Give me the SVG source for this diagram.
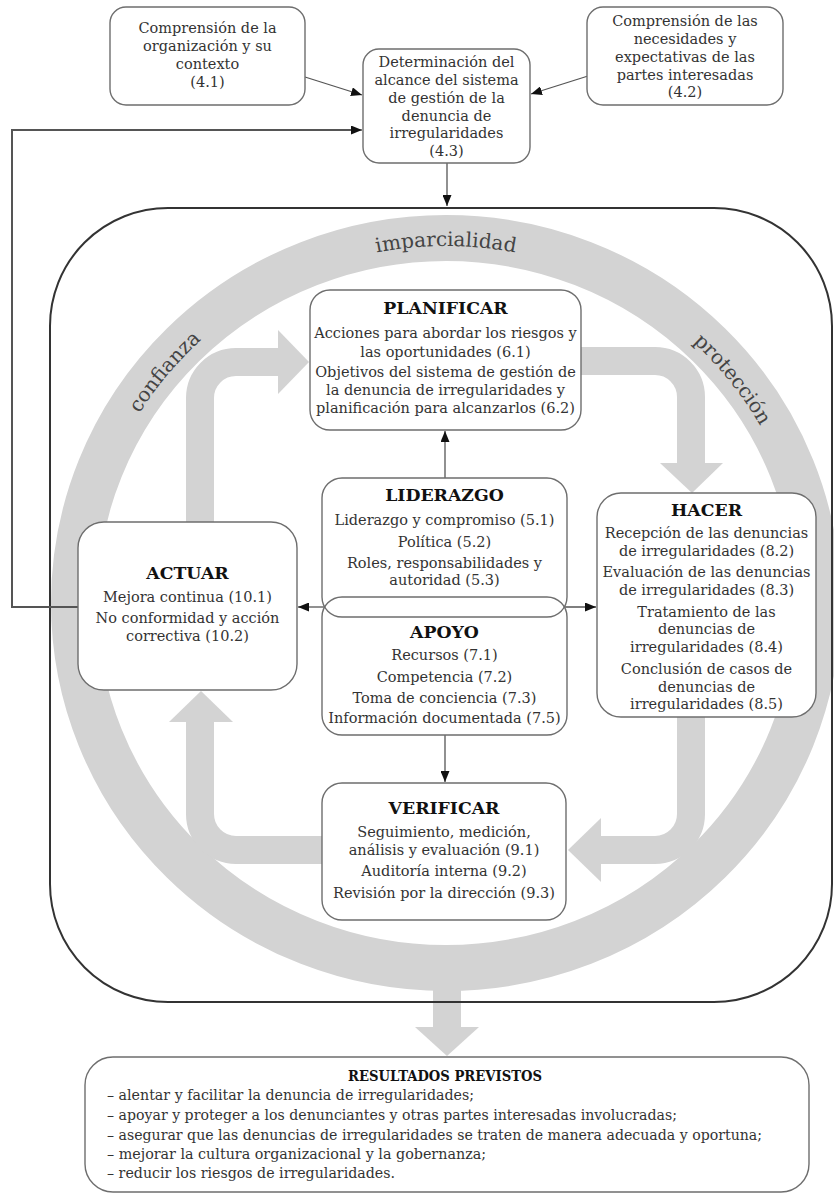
<svg xmlns="http://www.w3.org/2000/svg" width="834" height="1194" viewBox="0 0 834 1194">
<style>
.box{fill:#fff;stroke:#6e6e6e;stroke-width:1.4}
.boxn{fill:none;stroke:#6e6e6e;stroke-width:1.4}
.t{font-family:"DejaVu Serif","Liberation Serif",serif;font-size:14.5px;fill:#333;text-anchor:middle}
.h{font-family:"DejaVu Serif","Liberation Serif",serif;font-size:17.3px;font-weight:bold;fill:#111;text-anchor:middle}
.r{font-family:"DejaVu Serif","Liberation Serif",serif;font-size:20px;fill:#444}
.l{font-family:"DejaVu Serif","Liberation Serif",serif;font-size:15px;fill:#333}
.band{fill:none;stroke:#d3d3d3;stroke-width:28}
.gf{fill:#d3d3d3}
.conn{fill:none;stroke:#555;stroke-width:1.3}
.fb{fill:none;stroke:#555;stroke-width:2}
</style>
<defs>
<marker id="ah" markerUnits="userSpaceOnUse" markerWidth="11" markerHeight="9" refX="11" refY="4.5" orient="auto">
<path d="M0,0 L11,4.5 L0,9 z" fill="#111"/>
</marker>
<path id="ringpath" d="M 84,603 A 362 357 0 0 1 808,603"/>
</defs>
<rect width="834" height="1194" fill="#fff"/>

<g id="ring">
<ellipse cx="446" cy="603" rx="372" ry="365" fill="none" stroke="#d3d3d3" stroke-width="46"/>
<text class="r"><textPath href="#ringpath" startOffset="22%" text-anchor="middle">confianza</textPath></text>
<text class="r"><textPath href="#ringpath" startOffset="50%" text-anchor="middle">imparcialidad</textPath></text>
<text class="r"><textPath href="#ringpath" startOffset="78.8%" text-anchor="middle">protección</textPath></text>
</g>

<g id="cycle-arrows">
<path class="band" d="M200,523 V398 A36,36 0 0 1 236,362 H280"/>
<polygon class="gf" points="278,330 309,362 278,394"/>
<path class="band" d="M580,361 H655 A36,36 0 0 1 691,397 V465"/>
<polygon class="gf" points="660,463 723,463 692,493"/>
<path class="band" d="M691,716 V814 A36,36 0 0 1 655,850 H599"/>
<polygon class="gf" points="601,818 568,850 601,882"/>
<path class="band" d="M323,850 H236 A36,36 0 0 1 200,814 V720"/>
<polygon class="gf" points="169,722 233,722 201,691"/>
<rect class="gf" x="433" y="975" width="28" height="54"/>
<polygon class="gf" points="415,1027 479,1027 447,1056"/>
</g>

<g id="scope">
<rect x="50" y="208" width="782" height="794" rx="118" fill="none" stroke="#333" stroke-width="2"/>
</g>

<g id="connectors">
<line class="conn" x1="305" y1="77" x2="362" y2="95" marker-end="url(#ah)"/>
<line class="conn" x1="588" y1="76" x2="531" y2="94" marker-end="url(#ah)"/>
<line class="conn" x1="447" y1="163" x2="447" y2="206" marker-end="url(#ah)"/>
<polyline class="fb" points="78,607 12,607 12,130 354,130"/>
<line class="conn" x1="350" y1="130" x2="362" y2="130" marker-end="url(#ah)"/>
<line class="conn" x1="445" y1="478" x2="445" y2="431" marker-end="url(#ah)"/>
<line class="conn" x1="445" y1="735" x2="445" y2="782" marker-end="url(#ah)"/>
<line class="conn" x1="328" y1="607" x2="298" y2="607" marker-end="url(#ah)"/>
<line class="conn" x1="561" y1="607" x2="596" y2="607" marker-end="url(#ah)"/>
</g>

<g id="n41">
<rect class="box" x="110" y="7" width="195" height="98" rx="16"/>
<text class="t" x="207.5" y="33">Comprensión de la</text>
<text class="t" x="207.5" y="51">organización y su</text>
<text class="t" x="207.5" y="69">contexto</text>
<text class="t" x="207.5" y="87">(4.1)</text>
</g>

<g id="n43">
<rect class="box" x="363" y="49" width="167" height="114" rx="16"/>
<text class="t" x="446.5" y="67">Determinación del</text>
<text class="t" x="446.5" y="85">alcance del sistema</text>
<text class="t" x="446.5" y="103">de gestión de la</text>
<text class="t" x="446.5" y="121">denuncia de</text>
<text class="t" x="446.5" y="138">irregularidades</text>
<text class="t" x="446.5" y="156">(4.3)</text>
</g>

<g id="n42">
<rect class="box" x="587" y="7" width="196" height="98" rx="16"/>
<text class="t" x="685" y="26">Comprensión de las</text>
<text class="t" x="685" y="44">necesidades y</text>
<text class="t" x="685" y="62">expectativas de las</text>
<text class="t" x="685" y="80">partes interesadas</text>
<text class="t" x="685" y="97">(4.2)</text>
</g>

<g id="planificar">
<rect class="box" x="310" y="290" width="271" height="140" rx="20"/>
<text class="h" x="445.5" y="314">PLANIFICAR</text>
<text class="t" x="445.5" y="338">Acciones para abordar los riesgos y</text>
<text class="t" x="445.5" y="357">las oportunidades (6.1)</text>
<text class="t" x="445.5" y="377">Objetivos del sistema de gestión de</text>
<text class="t" x="445.5" y="395">la denuncia de irregularidades y</text>
<text class="t" x="445.5" y="413">planificación para alcanzarlos (6.2)</text>
</g>

<g id="liderazgo">
<rect class="box" x="322" y="478" width="245" height="139" rx="20"/>
<text class="h" x="444.5" y="501">LIDERAZGO</text>
<text class="t" x="444.5" y="525">Liderazgo y compromiso (5.1)</text>
<text class="t" x="444.5" y="547">Política (5.2)</text>
<text class="t" x="444.5" y="568">Roles, responsabilidades y</text>
<text class="t" x="444.5" y="585">autoridad (5.3)</text>
</g>

<g id="apoyo">
<rect class="boxn" x="322" y="597" width="245" height="138" rx="20"/>
<text class="h" x="444.5" y="638">APOYO</text>
<text class="t" x="444.5" y="660">Recursos (7.1)</text>
<text class="t" x="444.5" y="682">Competencia (7.2)</text>
<text class="t" x="444.5" y="703">Toma de conciencia (7.3)</text>
<text class="t" x="444.5" y="723">Información documentada (7.5)</text>
</g>

<g id="actuar">
<rect class="box" x="78" y="522" width="219" height="168" rx="26"/>
<text class="h" x="187.5" y="579">ACTUAR</text>
<text class="t" x="187.5" y="602">Mejora continua (10.1)</text>
<text class="t" x="187.5" y="623">No conformidad y acción</text>
<text class="t" x="187.5" y="641">correctiva (10.2)</text>
</g>

<g id="hacer">
<rect class="box" x="597" y="493" width="219" height="224" rx="24"/>
<text class="h" x="706.5" y="516">HACER</text>
<text class="t" x="706.5" y="538">Recepción de las denuncias</text>
<text class="t" x="706.5" y="556">de irregularidades (8.2)</text>
<text class="t" x="706.5" y="577">Evaluación de las denuncias</text>
<text class="t" x="706.5" y="595">de irregularidades (8.3)</text>
<text class="t" x="706.5" y="617">Tratamiento de las</text>
<text class="t" x="706.5" y="634">denuncias de</text>
<text class="t" x="706.5" y="652">irregularidades (8.4)</text>
<text class="t" x="706.5" y="674">Conclusión de casos de</text>
<text class="t" x="706.5" y="692">denuncias de</text>
<text class="t" x="706.5" y="709">irregularidades (8.5)</text>
</g>

<g id="verificar">
<rect class="box" x="322" y="783" width="244" height="137" rx="20"/>
<text class="h" x="444" y="814">VERIFICAR</text>
<text class="t" x="444" y="837">Seguimiento, medición,</text>
<text class="t" x="444" y="855">análisis y evaluación (9.1)</text>
<text class="t" x="444" y="876">Auditoría interna (9.2)</text>
<text class="t" x="444" y="898">Revisión por la dirección (9.3)</text>
</g>

<g id="resultados">
<rect class="box" x="85" y="1057" width="724" height="135" rx="28"/>
<text class="h" x="445" y="1081" style="font-size:15px" textLength="194" lengthAdjust="spacingAndGlyphs">RESULTADOS PREVISTOS</text>
<text class="l" x="107" y="1100" textLength="367" lengthAdjust="spacingAndGlyphs">– alentar y facilitar la denuncia de irregularidades;</text>
<text class="l" x="107" y="1120" textLength="570" lengthAdjust="spacingAndGlyphs">– apoyar y proteger a los denunciantes y otras partes interesadas involucradas;</text>
<text class="l" x="107" y="1140" textLength="655" lengthAdjust="spacingAndGlyphs">– asegurar que las denuncias de irregularidades se traten de manera adecuada y oportuna;</text>
<text class="l" x="107" y="1159" textLength="379" lengthAdjust="spacingAndGlyphs">– mejorar la cultura organizacional y la gobernanza;</text>
<text class="l" x="107" y="1178" textLength="288" lengthAdjust="spacingAndGlyphs">– reducir los riesgos de irregularidades.</text>
</g>
</svg>
